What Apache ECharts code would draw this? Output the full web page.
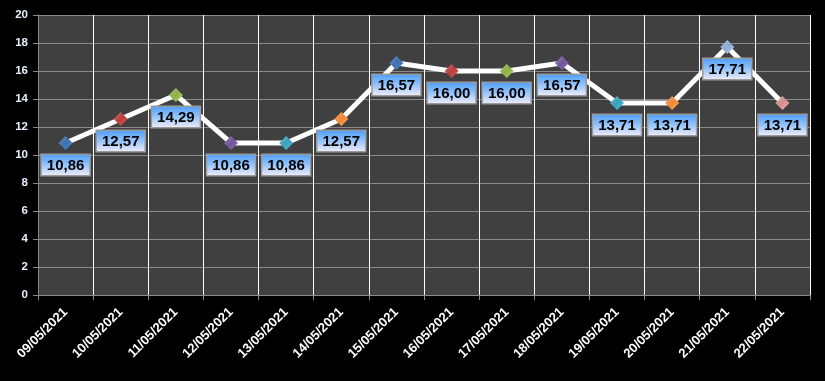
<!DOCTYPE html>
<html>
<head>
<meta charset="utf-8">
<script src="https://cdn.jsdelivr.net/npm/echarts@6/dist/echarts.min.js"></script>
<style>
html,body{margin:0;padding:0;background:#000;}
#chart{width:825px;height:381px;}
</style>
</head>
<body>
<div id="chart"></div>
<script>
var categories = ['09/05/2021','10/05/2021','11/05/2021','12/05/2021','13/05/2021','14/05/2021','15/05/2021','16/05/2021','17/05/2021','18/05/2021','19/05/2021','20/05/2021','21/05/2021','22/05/2021'];
var values = [10.86, 12.57, 14.29, 10.86, 10.86, 12.57, 16.57, 16.00, 16.00, 16.57, 13.71, 13.71, 17.71, 13.71];
var yTicks = [0, 2, 4, 6, 8, 10, 12, 14, 16, 18, 20];

var markerColors = ['#3f6fae','#b8403d','#8db04a','#72579a','#3aa0bb','#f0883a','#3f6fae','#b8403d','#8db04a','#72579a','#3aa0bb','#f0883a','#8fa9cf','#d08f8c'];

function marker(c) {
  return new echarts.graphic.LinearGradient(0, 0, 1, 1, [
    {offset: 0, color: echarts.color.lift(c, 0.25)},
    {offset: 0.5, color: c},
    {offset: 1, color: echarts.color.lift(c, -0.25)}
  ]);
}

var data = values.map(function (v, i) {
  return {value: v, itemStyle: {color: marker(markerColors[i % markerColors.length])}};
});

var chart = echarts.init(document.getElementById('chart'), null, {renderer: 'canvas'});
chart.setOption({
  backgroundColor: '#000000',
  animation: false,
  grid: {left: 38, right: 15, top: 15, bottom: 86, containLabel: false, show: true, backgroundColor: '#404040', borderWidth: 0},
  xAxis: {
    type: 'category',
    data: categories,
    boundaryGap: true,
    axisLine: {show: true, lineStyle: {color: '#8a8a8a', width: 1}},
    axisTick: {show: true, length: 5, lineStyle: {color: '#8a8a8a'}},
    splitLine: {show: true, lineStyle: {color: '#ffffff', width: 1}},
    axisLabel: {
      rotate: 45, interval: 0, color: '#ffffff', fontWeight: 'bold',
      fontFamily: 'Liberation Sans, Arial, sans-serif', fontSize: 13, margin: 15
    }
  },
  yAxis: {
    type: 'value',
    min: yTicks[0], max: yTicks[yTicks.length - 1], interval: 2,
    axisLine: {show: true, lineStyle: {color: '#8a8a8a', width: 1}},
    axisTick: {show: true, length: 5, lineStyle: {color: '#8a8a8a'}},
    splitLine: {show: true, lineStyle: {color: '#8a8a8a', width: 1}},
    axisLabel: {color: '#e6f0ff', fontWeight: 'bold', fontFamily: 'Liberation Sans, Arial, sans-serif', fontSize: 11.5, margin: 10}
  },
  series: [{
    type: 'line',
    data: data,
    symbol: 'diamond',
    symbolSize: 14,
    lineStyle: {color: '#ffffff', width: 5},
    itemStyle: {borderWidth: 0},
    z: 3,
    label: {
      show: true,
      position: 'bottom',
      distance: 5,
      formatter: function (p) { return p.value.toFixed(2).replace('.', ','); },
      color: '#000000',
      fontWeight: 'bold',
      fontSize: 15,
      fontFamily: 'Liberation Sans, Arial, sans-serif',
      padding: [3, 5, 2, 5],
      borderColor: '#9a9a9a',
      borderWidth: 1.5,
      backgroundColor: new echarts.graphic.LinearGradient(0, 0, 0, 1, [
        {offset: 0, color: '#4d9bfa'},
        {offset: 0.45, color: '#8cc0fa'},
        {offset: 1, color: '#f6eff9'}
      ])
    }
  }]
});
</script>
</body>
</html>
